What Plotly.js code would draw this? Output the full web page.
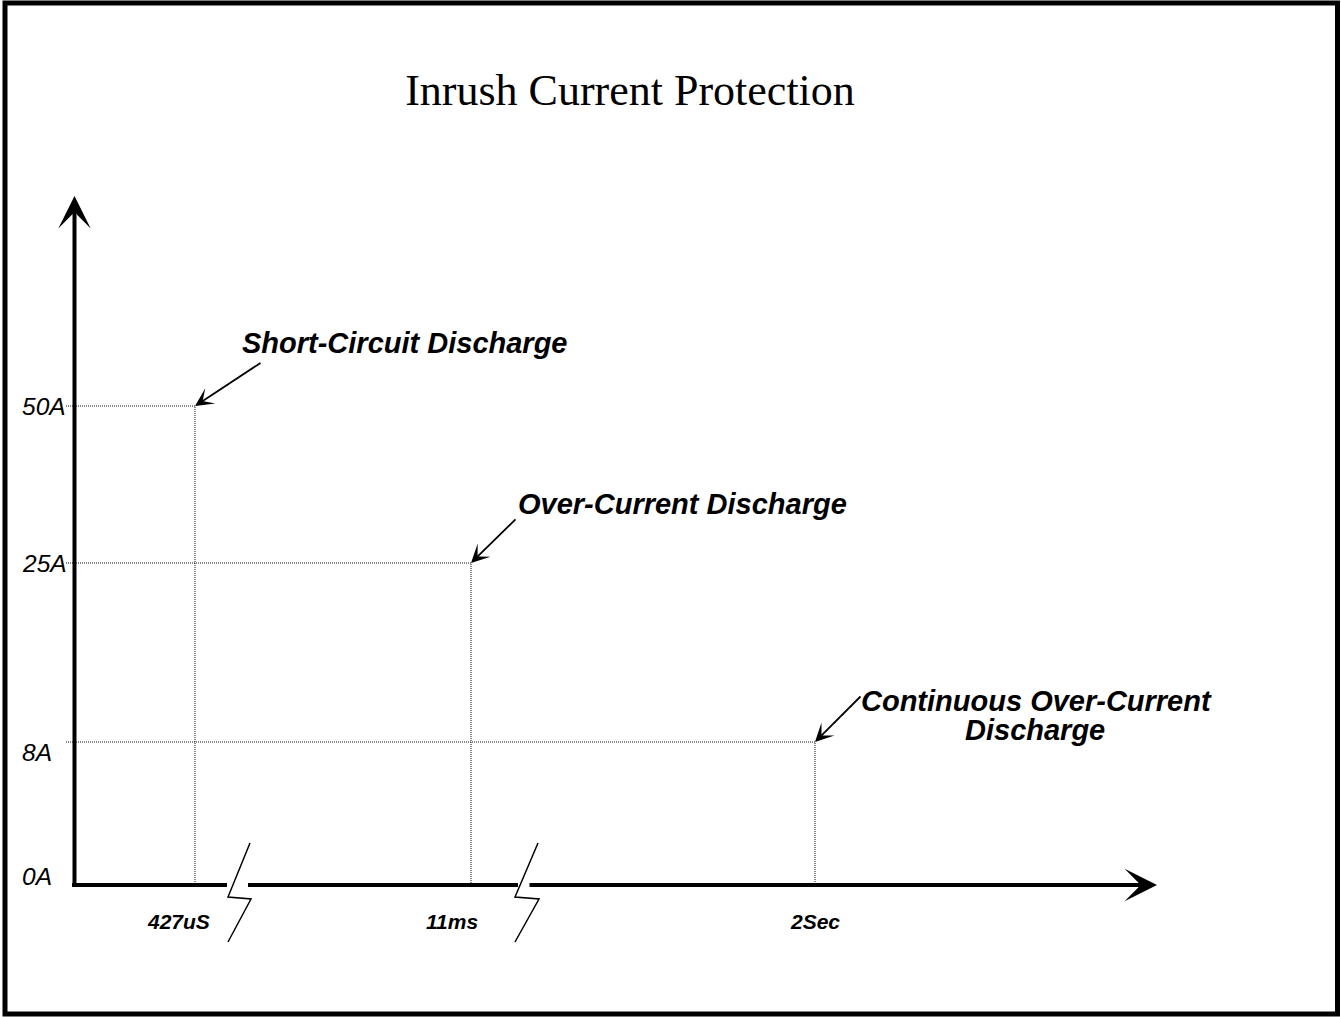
<!DOCTYPE html>
<html><head><meta charset="utf-8">
<script src="https://cdn.plot.ly/plotly-3.0.1.min.js"></script>
<style>html,body{margin:0;padding:0;background:#fff;} #chart{width:1341px;height:1017px;}</style>
</head><body><div id="chart"></div>
<script>
// ---------------- data ----------------
const chartTitle = 'Inrush Current Protection';
const timeLabels = ['427uS', '11ms', '2Sec'];
const currentValues = [50, 25, 8];
const baseCurrent = 0;
const currentUnit = 'A';
const eventNames = ['Short-Circuit Discharge', 'Over-Current Discharge', 'Continuous Over-Current|Discharge'];

// ---------------- layout helpers (schematic, broken axes) ----------------
const W = 1341, H = 1017;
const OX = 74.5, OY = 885, SX = 10.825, SY = 6.89;   // axis origin and px per unit
const X = px => (px - OX) / SX;
const Y = py => (OY - py) / SY;
// slot positions of the schematic (non-linear, broken) axes
const timeSlot = [X(195), X(471), X(815)];
const levelSlot = {50: Y(406), 25: Y(563), 8: Y(742), 0: 0};
const levelLabelY = {50: 406, 25: 563, 8: 752, 0: 876};
const timeLabelX = [178.5, 451.5, 814.5];
const eventText = [[405, 343], [682.5, 504], [1036.5, 701, 1034.5, 730]];
const eventTail = [[262, 362], [517, 518], [862, 695]];

const LAB = 'Liberation Sans, Arial, sans-serif';
const traces = [];
const annotations = [];

// dotted guide lines from the data
currentValues.forEach((v, i) => {
  const ly = levelSlot[v];
  traces.push({
    type: 'scatter', mode: 'lines', name: eventNames[i].replace('|', ' '),
    x: [X(66), timeSlot[i], timeSlot[i]], y: [ly, ly, levelSlot[baseCurrent]],
    line: {color: '#111', width: 1, dash: '1px,1px'}, hoverinfo: 'skip', cliponaxis: false
  });
});

// x axis segments (broken)
[[72, 227], [248, 518]].forEach(s => {
  traces.push({type: 'scatter', mode: 'lines', x: [X(s[0]), X(s[1])], y: [0, 0],
    line: {color: '#000', width: 4}, hoverinfo: 'skip', cliponaxis: false});
});
// break marks
[[250, 228], [538, 515]].forEach(b => {
  traces.push({type: 'scatter', mode: 'lines',
    x: [X(b[0]), X(b[1]), X(b[0] + 1), X(b[1])],
    y: [Y(843), Y(897), Y(899), Y(942)],
    line: {color: '#000', width: 1.5}, hoverinfo: 'skip', cliponaxis: false});
});

// axis arrows
annotations.push({x: 0, y: 100, ax: 0, ay: Y(887), xref: 'x', yref: 'y', axref: 'x', ayref: 'y',
  text: '', showarrow: true, arrowhead: 3, arrowwidth: 4, arrowsize: 1.35, arrowcolor: '#000'});
annotations.push({x: 100, y: 0, ax: X(528), ay: 0, xref: 'x', yref: 'y', axref: 'x', ayref: 'y',
  text: '', showarrow: true, arrowhead: 3, arrowwidth: 4, arrowsize: 1.35, arrowcolor: '#000'});

// y labels
[baseCurrent].concat(currentValues).forEach(v => {
  annotations.push({x: X(20), y: Y(levelLabelY[v]), xref: 'x', yref: 'y', xanchor: 'left', yanchor: 'middle',
    text: v + currentUnit, showarrow: false,
    font: {family: LAB, size: 24.5, style: 'italic', color: '#000'}});
});
// x labels
timeLabels.forEach((t, i) => {
  annotations.push({x: X(timeLabelX[i]), y: Y(921), xref: 'x', yref: 'y', xanchor: 'center', yanchor: 'middle',
    text: t, showarrow: false,
    font: {family: LAB, size: 21, style: 'italic', weight: 'bold', color: '#000'}});
});
// event labels and arrows
eventNames.forEach((n, i) => {
  const lines = n.split('|');
  const p = eventText[i];
  lines.forEach((ln, k) => {
    annotations.push({x: X(p[2 * k]), y: Y(p[2 * k + 1]), xref: 'x', yref: 'y', xanchor: 'center', yanchor: 'middle',
      text: ln, showarrow: false,
      font: {family: LAB, size: 29, style: 'italic', weight: 'bold', color: '#000'}});
  });
  annotations.push({x: timeSlot[i], y: levelSlot[currentValues[i]], ax: X(eventTail[i][0]), ay: Y(eventTail[i][1]),
    xref: 'x', yref: 'y', axref: 'x', ayref: 'y', text: '', showarrow: true,
    arrowhead: 3, arrowwidth: 1.8, arrowsize: 1.7, arrowcolor: '#000'});
});

const layout = {
  width: W, height: H, margin: {l: 0, r: 0, t: 0, b: 0},
  paper_bgcolor: '#fff', plot_bgcolor: '#fff', showlegend: false,
  title: {text: chartTitle, x: 630 / W, xanchor: 'center', y: 1 - 90 / H, yanchor: 'middle', yref: 'container',
    font: {family: 'Liberation Serif, Times New Roman, serif', size: 44, color: '#000'}},
  xaxis: {range: [X(0), X(W)], visible: false, fixedrange: true},
  yaxis: {range: [Y(H), Y(0)], visible: false, fixedrange: true},
  shapes: [{type: 'rect', xref: 'paper', yref: 'paper',
    x0: 5 / W, x1: 1337.5 / W, y0: 1 - 1014 / H, y1: 1 - 3 / H,
    line: {color: '#000', width: 5}, fillcolor: 'rgba(0,0,0,0)'}],
  annotations: annotations
};
Plotly.newPlot('chart', traces, layout, {displayModeBar: false, staticPlot: true});
</script></body></html>
